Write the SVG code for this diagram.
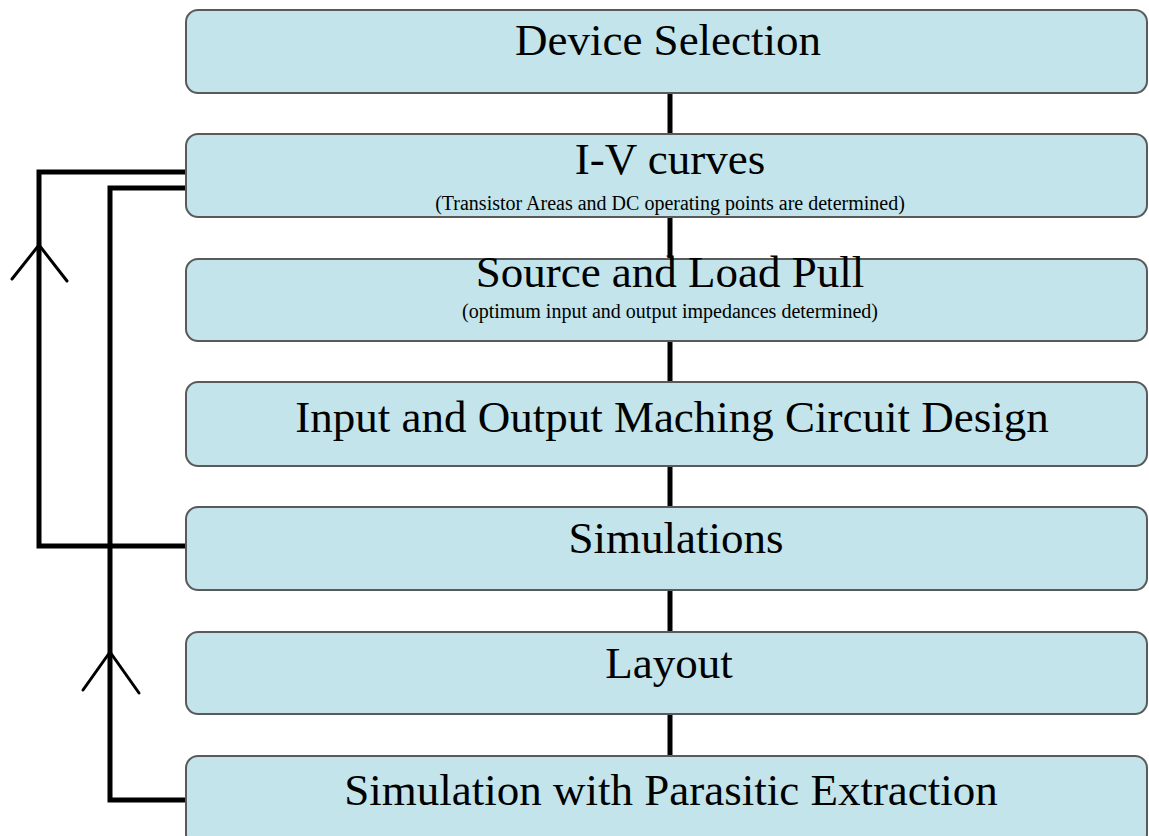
<svg xmlns="http://www.w3.org/2000/svg" width="1149" height="836" viewBox="0 0 1149 836">
<style>
.box{fill:#c2e4ea;stroke:#5a5a5a;stroke-width:2}
.t{font-family:"Liberation Serif","Times New Roman",serif;font-size:45px;fill:#000;text-anchor:middle}
.s{font-family:"Liberation Serif","Times New Roman",serif;font-size:20px;fill:#000;text-anchor:middle}
.w{fill:none;stroke:#000;stroke-width:5;stroke-linejoin:miter}
.a{fill:none;stroke:#000;stroke-width:3;stroke-linecap:round}
</style>
<rect width="1149" height="836" fill="#fff"/>
<g id="connectors">
<line class="w" x1="670" y1="93" x2="670" y2="134"/>
<line class="w" x1="670" y1="217" x2="670" y2="259"/>
<line class="w" x1="670" y1="341" x2="670" y2="382"/>
<line class="w" x1="670" y1="466" x2="670" y2="507"/>
<line class="w" x1="670" y1="590" x2="670" y2="632"/>
<line class="w" x1="670" y1="714" x2="670" y2="756"/>
<polyline class="w" points="186,546 39,546 39,172 186,172"/>
<polyline class="w" points="186,800 110,800 110,188 188,188"/>
<polyline class="a" points="12,279 39,245 67,281"/>
<polyline class="a" points="83,690 110,652 139,693"/>
</g>
<g id="n1"><rect class="box" x="186" y="10" width="961" height="83" rx="12"/><text class="t" x="668" y="55">Device Selection</text></g>
<g id="n2"><rect class="box" x="186" y="134" width="961" height="83" rx="12"/><text class="t" x="670" y="174">I-V curves</text><text class="s" x="670" y="210">(Transistor Areas and DC operating points are determined)</text></g>
<g id="n3"><rect class="box" x="186" y="259" width="961" height="82" rx="12"/><text class="t" x="670" y="287">Source and Load Pull</text><text class="s" x="670" y="318">(optimum input and output impedances determined)</text></g>
<g id="n4"><rect class="box" x="186" y="382" width="961" height="84" rx="12"/><text class="t" x="672" y="432">Input and Output Maching Circuit Design</text></g>
<g id="n5"><rect class="box" x="186" y="507" width="961" height="83" rx="12"/><text class="t" x="676" y="553">Simulations</text></g>
<g id="n6"><rect class="box" x="186" y="632" width="961" height="82" rx="12"/><text class="t" x="669" y="678">Layout</text></g>
<g id="n7"><rect class="box" x="186" y="756" width="961" height="90" rx="12"/><text class="t" x="671" y="805">Simulation with Parasitic Extraction</text></g>
</svg>
